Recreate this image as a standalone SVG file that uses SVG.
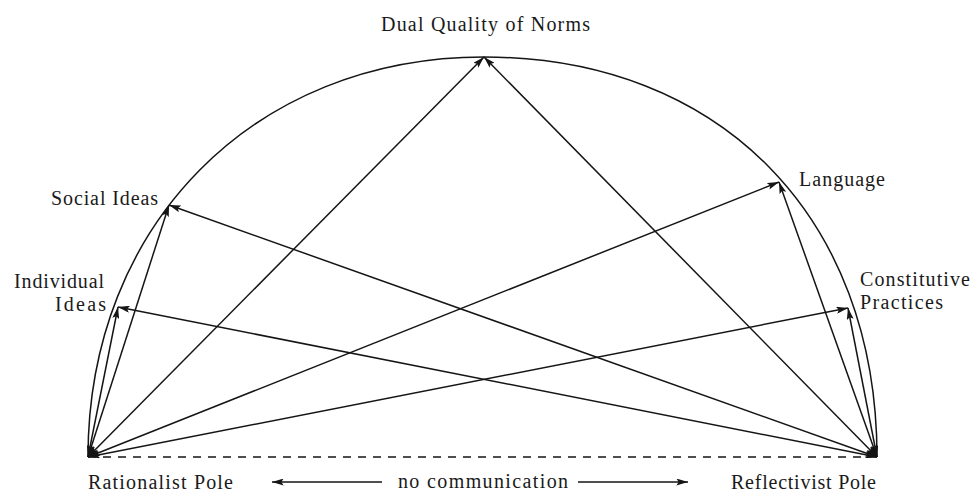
<svg xmlns="http://www.w3.org/2000/svg" width="972" height="494" viewBox="0 0 972 494">
<defs>
<style>
.lbl{font-family:"Liberation Serif","Times New Roman",serif;font-size:20px;fill:#1a1a1a}
.ln{stroke:#151515;stroke-width:1.5;fill:none}
.arr{marker-start:url(#ah);marker-end:url(#ah)}
.one{marker-end:url(#ah)}
</style>
<marker id="ah" viewBox="0 0 10 6" refX="10" refY="3" markerWidth="12" markerHeight="7" markerUnits="userSpaceOnUse" orient="auto-start-reverse">
<path d="M0,0 L10,3 L0,6 L2,3 z" fill="#151515"/>
</marker>
</defs>
<rect width="972" height="494" fill="#fff"/>
<g id="arc">
<path class="ln" d="M 88 457 C 88 225 254 57 484 57 C 720 57 877 217 877 457" stroke-width="1.7"/>
<line class="ln" x1="88" y1="457" x2="877" y2="457" stroke-dasharray="8 7"/>
</g>
<g id="connectors">
<line class="ln arr" x1="88" y1="457" x2="118" y2="307"/>
<line class="ln arr" x1="88" y1="457" x2="169" y2="205"/>
<line class="ln arr" x1="88" y1="457" x2="484" y2="57"/>
<line class="ln arr" x1="88" y1="457" x2="779" y2="182"/>
<line class="ln arr" x1="88" y1="457" x2="848" y2="308"/>
<line class="ln arr" x1="877" y1="457" x2="848" y2="308"/>
<line class="ln arr" x1="877" y1="457" x2="779" y2="182"/>
<line class="ln arr" x1="877" y1="457" x2="484" y2="57"/>
<line class="ln arr" x1="877" y1="457" x2="169" y2="205"/>
<line class="ln arr" x1="877" y1="457" x2="118" y2="307"/>
<line class="ln one" x1="382" y1="482" x2="272" y2="482"/>
<line class="ln one" x1="578" y1="482" x2="688" y2="482"/>
</g>
<g id="dual"><text class="lbl" x="381" y="31" textLength="209" lengthAdjust="spacing">Dual Quality of Norms</text></g>
<g id="social"><text class="lbl" x="51" y="205" textLength="107" lengthAdjust="spacing">Social Ideas</text></g>
<g id="individual"><text class="lbl" x="14" y="288" textLength="90" lengthAdjust="spacing">Individual</text><text class="lbl" x="55" y="311" textLength="51" lengthAdjust="spacing">Ideas</text></g>
<g id="language"><text class="lbl" x="799" y="186" textLength="86" lengthAdjust="spacing">Language</text></g>
<g id="constitutive"><text class="lbl" x="860" y="286" textLength="110" lengthAdjust="spacing">Constitutive</text><text class="lbl" x="860" y="309" textLength="83" lengthAdjust="spacing">Practices</text></g>
<g id="rationalist"><text class="lbl" x="88" y="489" textLength="145" lengthAdjust="spacing">Rationalist Pole</text></g>
<g id="reflectivist"><text class="lbl" x="731" y="489" textLength="145" lengthAdjust="spacing">Reflectivist Pole</text></g>
<g id="nocomm"><text class="lbl" x="398" y="488" textLength="170" lengthAdjust="spacing">no communication</text></g>
</svg>
